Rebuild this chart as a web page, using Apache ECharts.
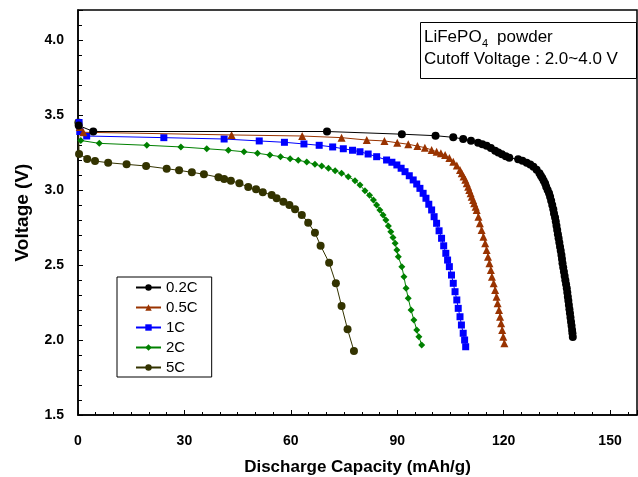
<!DOCTYPE html>
<html>
<head>
<meta charset="utf-8">
<script src="https://cdn.jsdelivr.net/npm/echarts@6/dist/echarts.min.js"></script>
<style>
  html,body{margin:0;padding:0;background:#fff;}
  #chart{width:638px;height:477px;}
</style>
</head>
<body>
<div id="chart"></div>
<script>
// discharge curves, [capacity mAh/g, voltage V]
const rates = ['0.2C', '0.5C', '1C', '2C', '5C']

const c02 = [[0.2,3.43],[4.3,3.39],[70.2,3.39],[91.3,3.372],[100.8,3.362],[105.8,3.351],[108.6,3.34],[110.8,3.329],
  [112.8,3.315],[114.0,3.305],[115.2,3.295],[116.4,3.28],[117.6,3.262],[118.5,3.25],[119.5,3.238],[120.6,3.225],[121.6,3.215],
  [124.1,3.205],[125.3,3.195],[126.5,3.182],[127.5,3.17],[128.4,3.155],[129.3,3.135],[130.1,3.111],[130.5,3.095],[130.9,3.08],
  [131.3,3.062],[131.7,3.044],[132.0,3.022],[132.4,3.0],[132.8,2.978],[133.1,2.955],[133.4,2.928],[133.7,2.9],[134.0,2.872],
  [134.2,2.844],[134.5,2.817],[134.7,2.79],[134.9,2.762],[135.1,2.733],[135.3,2.705],[135.5,2.678],[135.7,2.65],[135.9,2.622],
  [136.1,2.595],[136.3,2.567],[136.45,2.54],[136.6,2.512],[136.8,2.483],[137.0,2.455],[137.2,2.427],[137.4,2.398],[137.6,2.372],
  [137.8,2.345],[137.95,2.317],[138.1,2.289],[138.25,2.261],[138.4,2.233],[138.55,2.205],[138.7,2.178],[138.85,2.15],[139.0,2.122],
  [139.15,2.095],[139.3,2.067],[139.4,2.045],[139.5,2.02]]

const c05 = [[0.5,3.42],[1.5,3.385],[43.3,3.367],[63.2,3.36],[74.3,3.349],[81.4,3.333],[86.4,3.327],[90.0,3.315],[93.1,3.305],
  [95.7,3.293],[97.8,3.282],[99.7,3.267],[101.1,3.255],[102.3,3.245],[103.5,3.233],[104.7,3.213],[105.8,3.189],[106.8,3.163],
  [107.7,3.133],[108.2,3.112],[108.7,3.09],[109.2,3.068],[109.6,3.045],[110.0,3.022],[110.3,3.0],[110.7,2.978],[111.0,2.955],
  [111.4,2.933],[111.7,2.911],[112.1,2.889],[112.4,2.867],[112.9,2.822],[113.3,2.778],[113.8,2.733],[114.3,2.689],[114.8,2.645],
  [115.2,2.6],[115.6,2.555],[116.0,2.511],[116.4,2.467],[116.7,2.422],[117.2,2.378],[117.6,2.333],[118.0,2.289],[118.3,2.245],
  [118.7,2.2],[119.0,2.155],[119.3,2.111],[119.6,2.067],[119.9,2.022],[120.2,1.978]]

const c1 = [[0.3,3.45],[0.5,3.39],[2.45,3.36],[24.2,3.349],[41.2,3.34],[51.1,3.327],[58.2,3.318],[63.7,3.307],[68.0,3.298],
  [71.8,3.287],[74.8,3.275],[77.4,3.265],[79.5,3.255],[81.8,3.24],[84.2,3.222],[87.0,3.2],[88.5,3.185],[89.9,3.167],[91.1,3.145],
  [92.2,3.122],[93.4,3.095],[94.5,3.067],[95.5,3.04],[96.4,3.011],[97.3,2.978],[98.1,2.945],[98.9,2.905],[99.7,2.867],[100.4,2.822],
  [101.1,2.778],[101.8,2.728],[102.5,2.678],[103.1,2.628],[103.7,2.578],[104.2,2.533],[104.7,2.489],[105.3,2.433],[105.8,2.378],
  [106.3,2.322],[106.8,2.267],[107.2,2.211],[107.7,2.155],[108.1,2.1],[108.6,2.045],[109.0,2.0],[109.3,1.955]]

const c2 = [[0.8,3.33],[6.0,3.311],[19.4,3.298],[29.0,3.287],[36.3,3.275],[42.4,3.265],[46.8,3.255],[50.6,3.245],[54.1,3.233],
  [57.1,3.222],[59.8,3.209],[62.1,3.198],[64.5,3.187],[66.8,3.171],[68.7,3.16],[70.6,3.145],[72.5,3.129],[74.3,3.111],[76.2,3.089],
  [78.1,3.062],[79.5,3.033],[80.9,2.995],[82.2,2.965],[83.3,2.933],[84.2,2.9],[85.1,2.867],[86.0,2.833],[86.8,2.8],[87.5,2.76],
  [88.2,2.722],[88.8,2.683],[89.4,2.645],[89.9,2.6],[90.3,2.555],[91.3,2.489],[91.9,2.422],[92.5,2.345],[93.1,2.278],[93.9,2.2],
  [94.7,2.133],[95.5,2.067],[96.1,2.022],[96.9,1.967]]

const c5 = [[0.1,3.45],[0.3,3.24],[2.6,3.207],[4.8,3.193],[8.5,3.182],[13.7,3.171],[19.2,3.16],[25.0,3.142],[28.5,3.131],
  [32.1,3.118],[35.5,3.105],[39.6,3.085],[41.2,3.073],[43.1,3.062],[45.5,3.045],[48.0,3.02],[50.2,3.005],[52.1,2.985],[54.6,2.967],
  [56.0,2.945],[57.9,2.922],[59.6,2.9],[61.2,2.871],[63.1,2.833],[64.9,2.782],[66.8,2.715],[68.4,2.629],[70.8,2.515],[72.7,2.378],
  [74.3,2.227],[76.0,2.071],[77.8,1.927]]

const curves = [c02, c05, c1, c2, c5]
const colors = ['#000000', '#993300', '#0000ff', '#008000', '#333300']
const symbols = ['circle', 'triangle', 'rect', 'diamond', 'circle']
const symSizes = [8, 8, 7, 7, 8]

const font = 'Liberation Sans, Arial, Helvetica, sans-serif'

const myChart = echarts.init(document.getElementById('chart'), null, {renderer: 'canvas'})

myChart.setOption({
  animation: false,
  backgroundColor: '#fff',
  grid: {
    left: 78, right: 1, top: 10, bottom: 62,
    outerBoundsMode: 'none',
    containLabel: false,
    show: true, borderColor: '#000', borderWidth: 1.5, backgroundColor: 'transparent'
  },
  xAxis: {
    type: 'value', min: 0, max: 157.6, interval: 30,
    name: 'Discharge Capacity (mAh/g)', nameLocation: 'middle', nameGap: 44,
    nameTextStyle: {fontFamily: font, fontWeight: 'bold', fontSize: 17, color: '#000'},
    axisLine: {onZero: false, lineStyle: {color: '#000', width: 1.5}},
    axisTick: {inside: true, length: 5, lineStyle: {color: '#000'}},
    minorTick: {show: true, splitNumber: 6, length: 3, lineStyle: {color: '#000'}},
    splitLine: {show: false},
    axisLabel: {
      fontFamily: font, fontWeight: 'bold', fontSize: 14, color: '#000', margin: 19,
      formatter: v => (v % 30 === 0 ? String(v) : '')
    }
  },
  yAxis: {
    type: 'value', min: 1.5, max: 4.2, interval: 0.5,
    name: 'Voltage (V)', nameLocation: 'middle', nameGap: 46,
    nameTextStyle: {fontFamily: font, fontWeight: 'bold', fontSize: 19, color: '#000'},
    axisLine: {onZero: false, lineStyle: {color: '#000', width: 1.5}},
    axisTick: {inside: true, length: 5, lineStyle: {color: '#000'}},
    minorTick: {show: true, splitNumber: 5, length: 4, lineStyle: {color: '#000'}},
    splitLine: {show: false},
    axisLabel: {
      fontFamily: font, fontWeight: 'bold', fontSize: 14, color: '#000', margin: 14,
      formatter: v => (Math.abs(v * 2 - Math.round(v * 2)) < 1e-6 ? v.toFixed(1) : '')
    }
  },
  legend: {
    data: rates,
    orient: 'vertical',
    left: 117, top: 277,
    padding: [3, 14, 2, 18],
    itemWidth: 25, itemHeight: 8, itemGap: 5,
    borderColor: '#000', borderWidth: 1,
    backgroundColor: '#fff',
    selectedMode: false,
    textStyle: {fontFamily: font, fontSize: 15, color: '#000', lineHeight: 14}
  },
  graphic: [
    {type: 'rect', left: 420, top: 22, z: 100,
      shape: {width: 216, height: 56},
      style: {fill: '#fff', stroke: '#000', lineWidth: 1}},
    {type: 'text', left: 424, top: 29, z: 101,
      style: {text: 'LiFePO', font: '17px ' + font, fill: '#000'}},
    {type: 'text', left: 482, top: 38, z: 101,
      style: {text: '4', font: '11px ' + font, fill: '#000'}},
    {type: 'text', left: 497, top: 29, z: 101,
      style: {text: 'powder', font: '17px ' + font, fill: '#000'}},
    {type: 'text', left: 424, top: 51, z: 101,
      style: {text: 'Cutoff Voltage : 2.0~4.0 V', font: '17px ' + font, fill: '#000'}}
  ],
  series: curves.map((d, i) => ({
    name: rates[i],
    type: 'line',
    data: d,
    symbol: symbols[i],
    symbolSize: symSizes[i],
    showAllSymbol: true,
    color: colors[i],
    lineStyle: {color: colors[i], width: 1},
    itemStyle: {color: colors[i], borderWidth: 0},
    emphasis: {disabled: true},
    z: 10 - i
  }))
})
</script>
</body>
</html>
